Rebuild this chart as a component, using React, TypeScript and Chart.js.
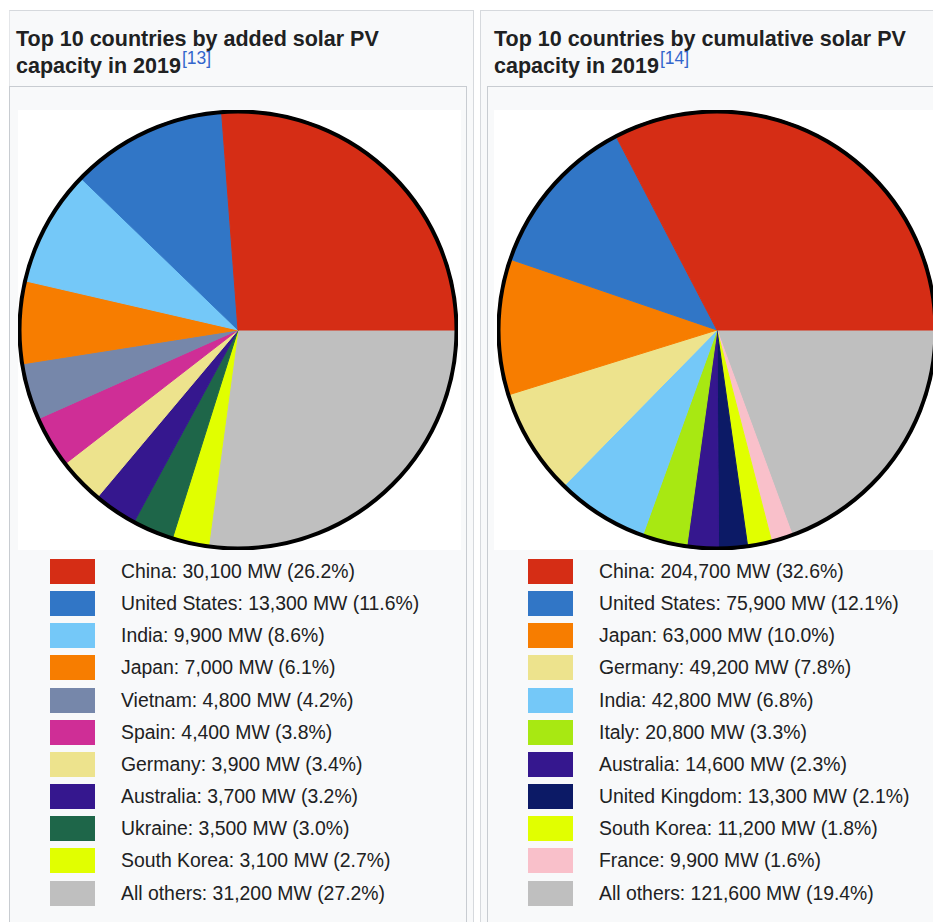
import React, { useEffect, useRef } from "react";
import { Chart, registerables } from "chart.js";

Chart.register(...registerables);

// ---- Data: added capacity in 2019 ----
const addedLabels = ["China", "United States", "India", "Japan", "Vietnam", "Spain", "Germany", "Australia", "Ukraine", "South Korea", "All others"];
const addedValues = [30100, 13300, 9900, 7000, 4800, 4400, 3900, 3700, 3500, 3100, 31200];
const addedPercents = [26.2, 11.6, 8.6, 6.1, 4.2, 3.8, 3.4, 3.2, 3.0, 2.7, 27.2];
const addedColors = ["#d52d15", "#3176c6", "#74c8f8", "#f77d00", "#7687aa", "#cf2e96", "#ede38d", "#35178e", "#1e6649", "#e1ff00", "#bfbfbf"];

// ---- Data: cumulative capacity in 2019 ----
const cumLabels = ["China", "United States", "Japan", "Germany", "India", "Italy", "Australia", "United Kingdom", "South Korea", "France", "All others"];
const cumValues = [204700, 75900, 63000, 49200, 42800, 20800, 14600, 13300, 11200, 9900, 121600];
const cumPercents = [32.6, 12.1, 10.0, 7.8, 6.8, 3.3, 2.3, 2.1, 1.8, 1.6, 19.4];
const cumColors = ["#d52d15", "#3176c6", "#f77d00", "#ede38d", "#74c8f8", "#a8e812", "#35178e", "#0c1a66", "#e1ff00", "#f9c0ca", "#bfbfbf"];

const FONT = '"Liberation Sans", Arial, Helvetica, sans-serif';

const outlinePlugin = {
  id: "outline",
  afterDatasetsDraw(chart: any) {
    const meta = chart.getDatasetMeta(0);
    if (!meta.data.length) return;
    const { x, y, outerRadius } = meta.data[0].getProps(["x", "y", "outerRadius"], true);
    const ctx = chart.ctx;
    ctx.save();
    ctx.beginPath();
    ctx.arc(x, y, outerRadius - 1, 0, Math.PI * 2);
    ctx.lineWidth = 4;
    ctx.strokeStyle = "#000";
    ctx.stroke();
    ctx.restore();
  },
};

function PieCanvas({ labels, values, colors }: { labels: string[]; values: number[]; colors: string[] }) {
  const ref = useRef<HTMLCanvasElement>(null);
  useEffect(() => {
    if (!ref.current) return;
    // Source draws slices counter-clockwise from 3 o'clock; Chart.js draws clockwise,
    // so reverse order and start at 90°.
    const chart = new Chart(ref.current, {
      type: "pie",
      data: {
        labels: [...labels].reverse(),
        datasets: [
          {
            data: [...values].reverse(),
            backgroundColor: [...colors].reverse(),
            borderColor: [...colors].reverse(),
            borderWidth: 1,
          },
        ],
      },
      options: {
        responsive: false,
        animation: false,
        devicePixelRatio: 1,
        rotation: 90,
        layout: { padding: 0 },
        plugins: { legend: { display: false }, tooltip: { enabled: false } },
      },
      plugins: [outlinePlugin],
    } as any);
    return () => chart.destroy();
  }, []);
  return <canvas ref={ref} width={440} height={440} style={{ display: "block", width: 440, height: 440 }} />;
}

function Legend({ labels, values, percents, colors, swatchLeft, textLeft }: any) {
  return (
    <>
      {labels.map((l: string, i: number) => {
        const top = 559 + i * 32.15;
        return (
          <React.Fragment key={l}>
            <div style={{ position: "absolute", left: swatchLeft, top, width: 45, height: 25, background: colors[i] }} />
            <div
              style={{
                position: "absolute",
                left: textLeft,
                top: top - 4,
                height: 33,
                lineHeight: "33px",
                fontFamily: FONT,
                fontSize: 19.4,
                color: "#202122",
                whiteSpace: "nowrap",
              }}
            >
              {`${l}: ${values[i].toLocaleString("en-US")} MW (${percents[i].toFixed(1)}%)`}
            </div>
          </React.Fragment>
        );
      })}
    </>
  );
}

function Title({ left, line1, line2, ref_ }: { left: number; line1: string; line2: string; ref_: string }) {
  return (
    <div
      style={{
        position: "absolute",
        left,
        top: 26,
        fontFamily: FONT,
        fontWeight: "bold",
        fontSize: 21.5,
        lineHeight: "27px",
        color: "#202122",
        whiteSpace: "nowrap",
      }}
    >
      {line1}
      <br />
      {line2}
      <span style={{ position: "relative", top: -9, fontSize: 17.5, fontWeight: "normal", color: "#3366cc", marginLeft: 1, lineHeight: "0px" }}>
        {ref_}
      </span>
    </div>
  );
}

export default function App() {
  return (
    <div style={{ position: "fixed", left: 0, top: 0, width: 933, height: 922, overflow: "hidden", background: "#fff" }}>
      {/* Left panel */}
      <div style={{ position: "absolute", left: 9, top: 10, width: 463, height: 960, background: "#f8f9fa", borderTop: "1px solid #d6d9dd", borderRight: "1px solid #d6d9dd", borderLeft: "1px solid #e4e6e9" }} />
      <div style={{ position: "absolute", left: 9, top: 86, width: 456, height: 900, background: "#f8f9fa", border: "1px solid #c8ccd1" }} />
      <div style={{ position: "absolute", left: 18, top: 110, width: 443, height: 440, background: "#fff" }} />
      <div style={{ position: "absolute", left: 18, top: 110 }}>
        <PieCanvas labels={addedLabels} values={addedValues} colors={addedColors} />
      </div>
      <Title left={16} line1="Top 10 countries by added solar PV" line2="capacity in 2019" ref_="[13]" />
      <Legend labels={addedLabels} values={addedValues} percents={addedPercents} colors={addedColors} swatchLeft={50} textLeft={121} />

      {/* Right panel */}
      <div style={{ position: "absolute", left: 480, top: 10, width: 500, height: 960, background: "#f8f9fa", borderTop: "1px solid #d6d9dd", borderLeft: "1px solid #d6d9dd" }} />
      <div style={{ position: "absolute", left: 487, top: 86, width: 500, height: 900, background: "#f8f9fa", border: "1px solid #c8ccd1" }} />
      <div style={{ position: "absolute", left: 494, top: 110, width: 450, height: 440, background: "#fff" }} />
      <div style={{ position: "absolute", left: 497, top: 110 }}>
        <PieCanvas labels={cumLabels} values={cumValues} colors={cumColors} />
      </div>
      <Title left={494} line1="Top 10 countries by cumulative solar PV" line2="capacity in 2019" ref_="[14]" />
      <Legend labels={cumLabels} values={cumValues} percents={cumPercents} colors={cumColors} swatchLeft={528} textLeft={599} />
    </div>
  );
}
